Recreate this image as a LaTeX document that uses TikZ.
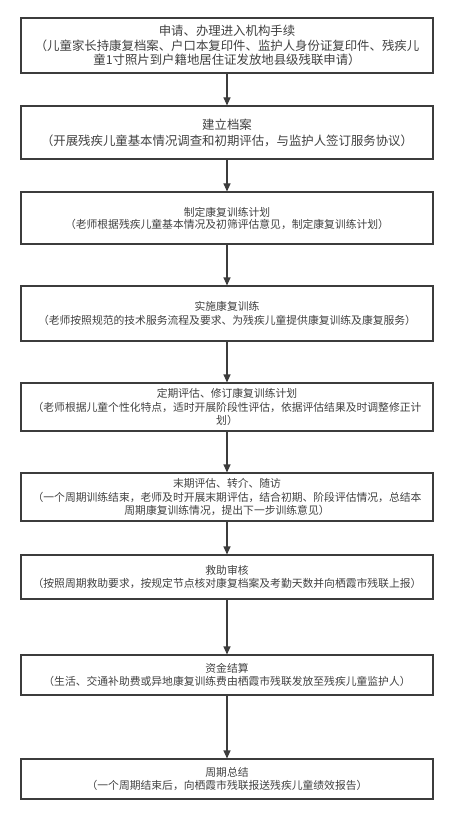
\documentclass[tikz,border=0pt]{standalone}
\usepackage{fontspec}
\newfontfamily\cjk{Noto Sans CJK SC}
\usetikzlibrary{arrows.meta}
\definecolor{ln}{HTML}{3C3C3C}
\definecolor{tx}{HTML}{404040}
\tikzset{
  stepbox/.style={draw=ln, line width=1.1pt, minimum width=412pt, inner sep=0pt, align=center, text=tx},
  big/.style={font=\cjk\fontsize{12.4}{14.5}\selectfont},
  small/.style={font=\cjk\fontsize{10.8}{13.3}\selectfont},
  flow/.style={draw=ln, line width=1.1pt, -{Triangle[length=8pt,width=7pt]}}
}
\begin{document}
\begin{tikzpicture}[x=1pt,y=1pt]
\useasboundingbox (0,0) rectangle (454,-818);
\node[stepbox,big,minimum height=55pt] (b1) at (227,-45.5) {申请、办理进入机构手续\\（儿童家长持康复档案、户口本复印件、监护人身份证复印件、残疾儿\\童1寸照片到户籍地居住证发放地县级残联申请）};
\node[stepbox,big,minimum height=53pt,font=\cjk\fontsize{12.4}{16}\selectfont] (b2) at (227,-132.5) {建立档案\\（开展残疾儿童基本情况调查和初期评估，与监护人签订服务协议）};
\node[stepbox,small,minimum height=52pt,font=\cjk\fontsize{10.8}{12}\selectfont] (b3) at (227,-218) {制定康复训练计划\\（老师根据残疾儿童基本情况及初筛评估意见，制定康复训练计划）};
\node[stepbox,small,minimum height=55pt] (b4) at (227,-313.5) {实施康复训练\\（老师按照规范的技术服务流程及要求、为残疾儿童提供康复训练及康复服务）};
\node[stepbox,small,minimum height=48pt] (b5) at (227,-407) {定期评估、修订康复训练计划\\（老师根据儿童个性化特点，适时开展阶段性评估，依据评估结果及时调整修正计\\划）};
\node[stepbox,small,minimum height=48pt] (b6) at (227,-497) {末期评估、转介、随访\\（一个周期训练结束，老师及时开展末期评估，结合初期、阶段评估情况，总结本\\周期康复训练情况，提出下一步训练意见）};
\node[stepbox,small,minimum height=44pt] (b7) at (227,-577) {救助审核\\（按照周期救助要求，按规定节点核对康复档案及考勤天数并向栖霞市残联上报）};
\node[stepbox,small,minimum height=40pt] (b8) at (227,-675) {资金结算\\（生活、交通补助费或异地康复训练费由栖霞市残联发放至残疾儿童监护人）};
\node[stepbox,small,minimum height=40pt] (b9) at (227,-779) {周期总结\\（一个周期结束后，向栖霞市残联报送残疾儿童绩效报告）};
\draw[flow] (b1) -- (b2);
\draw[flow] (b2) -- (b3);
\draw[flow] (b3) -- (b4);
\draw[flow] (b4) -- (b5);
\draw[flow] (b5) -- (b6);
\draw[flow] (b6) -- (b7);
\draw[flow] (b7) -- (b8);
\draw[flow] (b8) -- (b9);
\end{tikzpicture}
\end{document}
